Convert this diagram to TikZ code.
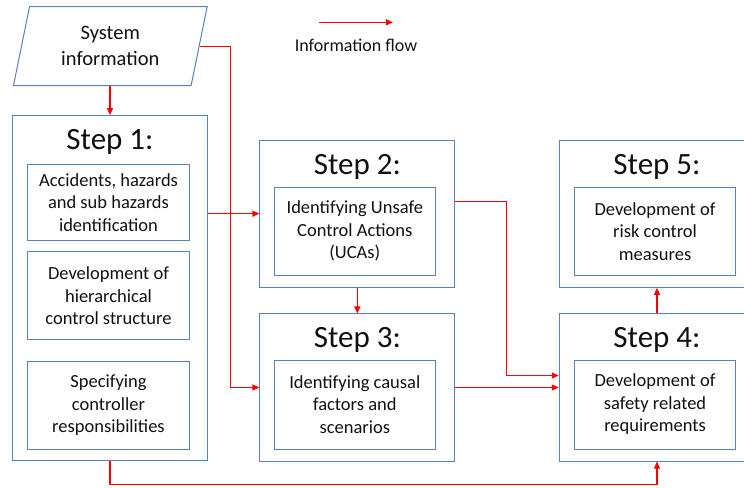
\documentclass[tikz,border=0pt]{standalone}
\usepackage{fontspec}
\setmainfont{Carlito}
\usepackage{xcolor}
\usepackage{tikz}
\usetikzlibrary{calc,arrows.meta,shapes.geometric}
\definecolor{boxline}{HTML}{5A82B4}
\definecolor{flowred}{HTML}{FF0000}
\definecolor{ink}{HTML}{111111}
\tikzset{
  stepbox/.style={draw=boxline, line width=1bp, rectangle, inner sep=0pt},
  inbox/.style={draw=boxline, line width=1bp, rectangle, inner sep=0pt, align=center, text=ink,
    font=\fontsize{18.5bp}{22.5bp}\selectfont, minimum width=161bp},
  steptitle/.style={text=ink, anchor=base, inner sep=0pt, font=\fontsize{31bp}{36bp}\selectfont},
  sysbox/.style={draw=boxline, line width=1bp, trapezium, trapezium left angle=76,
    trapezium right angle=104, trapezium stretches=true, align=center, text=ink, inner sep=0pt,
    font=\fontsize{20.5bp}{25.7bp}\selectfont},
  flow/.style={draw=flowred, line width=1.1bp, -{Triangle[length=7bp,width=6bp]}},
  legtext/.style={text=ink, anchor=base, inner sep=0pt, font=\fontsize{18bp}{22bp}\selectfont},
}

\begin{document}
\begin{tikzpicture}[x=1bp, y=-1bp]
  \useasboundingbox (0,0) rectangle (744,488);
  % input
  \node[sysbox, minimum width=194bp, minimum height=79bp] (sysinfo) at (110.3,46.2) {System\\information};
  % legend
  \coordinate (legA) at (319,22.3);
  \coordinate (legB) at (393,22.3);
  \draw[flow] (legA) -- (legB);
  \node[legtext] (legend) at (356,52) {Information flow};

  % step boxes
  \node[stepbox, minimum width=194.6bp, minimum height=345.3bp] (step1) at (110,288.3) {};
  \node[stepbox, minimum width=194.7bp, minimum height=147.3bp] (step2) at (357.3,213.7) {};
  \node[stepbox, minimum width=194.7bp, minimum height=147bp] (step3) at (357.3,387.5) {};
  \node[stepbox, minimum width=195.4bp, minimum height=147bp] (step4) at (657,387.5) {};
  \node[stepbox, minimum width=195.4bp, minimum height=147.3bp] (step5) at (657,213.7) {};

  \node[steptitle] (t1) at (110,150) {Step 1:};
  \node[steptitle] (t2) at (357.3,175) {Step 2:};
  \node[steptitle] (t3) at (357.3,347) {Step 3:};
  \node[steptitle] (t4) at (657,347) {Step 4:};
  \node[steptitle] (t5) at (657,175) {Step 5:};

  % tasks inside each step
  \node[inbox, minimum height=76.4bp] (hazid) at (108.5,202.5) {Accidents, hazards\\and sub hazards\\identification};
  \node[inbox, minimum height=88bp] (hcs) at (108.5,295.7) {Development of\\hierarchical\\control structure};
  \node[inbox, minimum height=88bp] (resp) at (108.5,405.3) {Specifying\\controller\\responsibilities};
  \node[inbox, minimum height=87.7bp] (uca) at (354.8,231.2) {Identifying Unsafe\\Control Actions\\(UCAs)};
  \node[inbox, minimum height=89bp] (causal) at (354.8,404.5) {Identifying causal\\factors and\\scenarios};
  \node[inbox, minimum height=89bp] (reqs) at (655,404.5) {Development of\\safety related\\requirements};
  \node[inbox, minimum height=87.7bp] (risk) at (655,231.2) {Development of\\risk control\\measures};

  % information flow
  \draw[flow] (sysinfo.south -| step1.north) -- (step1.north);
  \draw[flow] (sysinfo.east) -- ++(31,0) |- (step3.west);
  \draw[flow] (step1.east |- step2.west) -- (step2.west);
  \draw[flow] (step2.south) -- (step3.north);
  \draw[flow] ([yshift=12.5bp]step2.east) -| (506.7,300) |- ([yshift=12bp]step4.west);
  \draw[flow] (step3.east) -- (step4.west);
  \draw[flow] (step4.north) -- (step5.south);
  \draw[flow] (step1.south) -- ++(0,23) -| (step4.south);
\end{tikzpicture}
\end{document}
